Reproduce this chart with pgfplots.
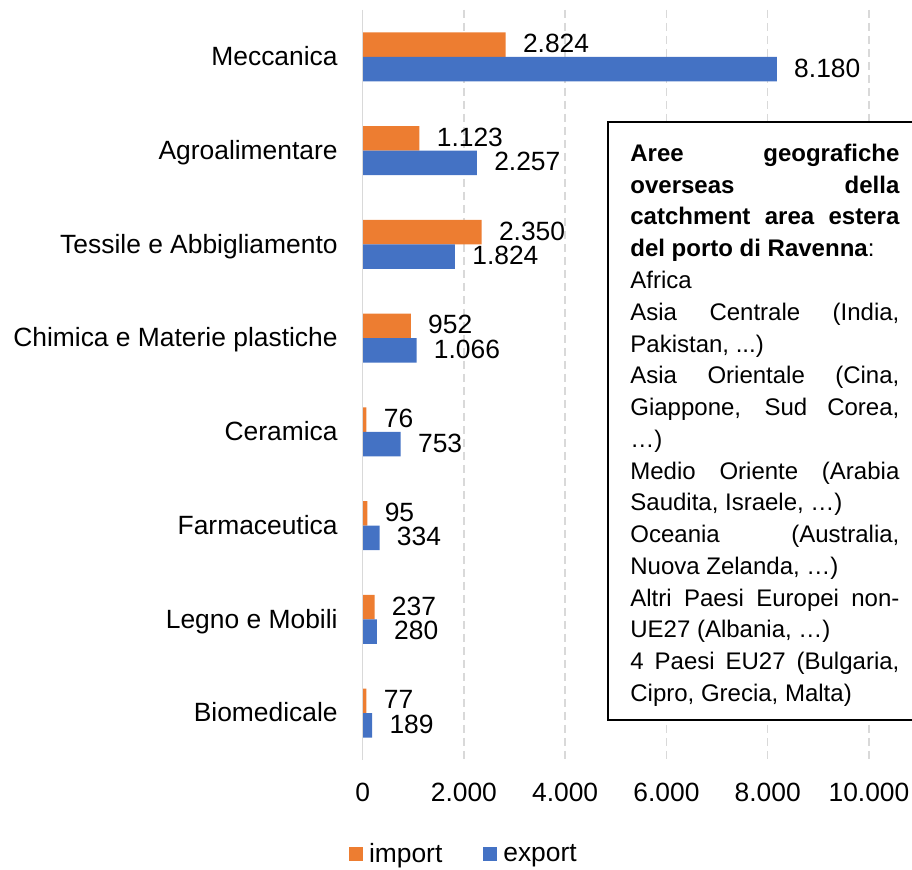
\documentclass[border=0pt]{standalone}
\usepackage{pgfplots}
\pgfplotsset{compat=1.18}
\usepackage{fontspec}
\setmainfont{Liberation Sans}
\definecolor{imp}{HTML}{ED7D31}
\definecolor{exp}{HTML}{4472C4}
\definecolor{gridc}{HTML}{D9D9D9}
\begin{document}
\fontsize{13.2pt}{15.9pt}\selectfont
\begin{tikzpicture}
\path[use as bounding box] (0,0) rectangle (456pt,435pt);
\begin{axis}[
  at={(181.3pt,55pt)}, anchor=south west,
  scale only axis, width=253.2pt, height=375pt,
  xmin=0, xmax=10000, ymin=-0.5, ymax=7.5,
  y dir=reverse,
  xbar, bar width=12.25pt,
  scaled x ticks=false,
  axis line style={draw=none},
  major tick length=0pt,
  xtick={0,2000,4000,6000,8000,10000},
  xticklabels={0,2.000,4.000,6.000,8.000,10.000},
  ytick={0,1,2,3,4,5,6,7},
  yticklabels={Meccanica,Agroalimentare,Tessile e Abbigliamento,Chimica e Materie plastiche,Ceramica,Farmaceutica,Legno e Mobili,Biomedicale},
  xmajorgrids,
  major grid style={gridc, line width=0.75pt, dash pattern=on 4pt off 2.5pt},
  xticklabel style={anchor=base, inner sep=0pt, yshift=-21pt},
  yticklabel style={anchor=base east, inner sep=0pt, xshift=-12.3pt, yshift=-4.4pt},
  point meta=explicit symbolic,
  nodes near coords,
  every node near coord/.append style={anchor=west, inner sep=0pt, xshift=8.5pt, yshift=0.6pt, font=\fontsize{13.2pt}{15.9pt}\selectfont, text=black},
  legend style={at={(0.201,-0.126)}, anchor=center, draw=none, fill=none, legend columns=2,
    /tikz/every even column/.append style={column sep=19pt},
    nodes={inner sep=1.5pt}},
  legend image code/.code={\fill[#1] (0pt,-3.5pt) rectangle (7pt,3.5pt);},
  clip=false,
]
\addplot[fill=imp, draw=none, bar shift=6.125pt] coordinates {
  (2824,0) [2.824]
  (1123,1) [1.123]
  (2350,2) [2.350]
  (952,3) [952]
  (76,4) [76]
  (95,5) [95]
  (237,6) [237]
  (77,7) [77]
};
\addplot[fill=exp, draw=none, bar shift=-6.125pt] coordinates {
  (8180,0) [8.180]
  (2257,1) [2.257]
  (1824,2) [1.824]
  (1066,3) [1.066]
  (753,4) [753]
  (334,5) [334]
  (280,6) [280]
  (189,7) [189]
};
\legend{\kern1.5pt import,\kern1.5pt export}
\draw[gridc, line width=0.9pt] (axis cs:0,-0.5) -- (axis cs:0,7.5);
\end{axis}
\draw[fill=white, line width=0.6pt] (304pt,75pt) rectangle (470pt,374pt);
\node[anchor=base west, text width=134.5pt, align=justify, inner sep=0pt,
  font=\fontsize{12pt}{15.88pt}\selectfont] at (315pt,354.25pt) {%
\tolerance=10000\hbadness=10000\hyphenpenalty=10000\exhyphenpenalty=10000%
\textbf{Aree geografiche\linebreak overseas della\linebreak catchment area estera\linebreak del porto di Ravenna}:\par
Africa\par
Asia Centrale (India,\linebreak Pakistan, ...)\par
Asia Orientale (Cina,\linebreak Giappone, Sud Corea,\linebreak …)\par
Medio Oriente (Arabia\linebreak Saudita, Israele, …)\par
Oceania (Australia,\linebreak Nuova Zelanda, …)\par
Altri Paesi Europei non-\linebreak UE27 (Albania, …)\par
4 Paesi EU27 (Bulgaria,\linebreak Cipro, Grecia, Malta)};
\end{tikzpicture}
\end{document}
